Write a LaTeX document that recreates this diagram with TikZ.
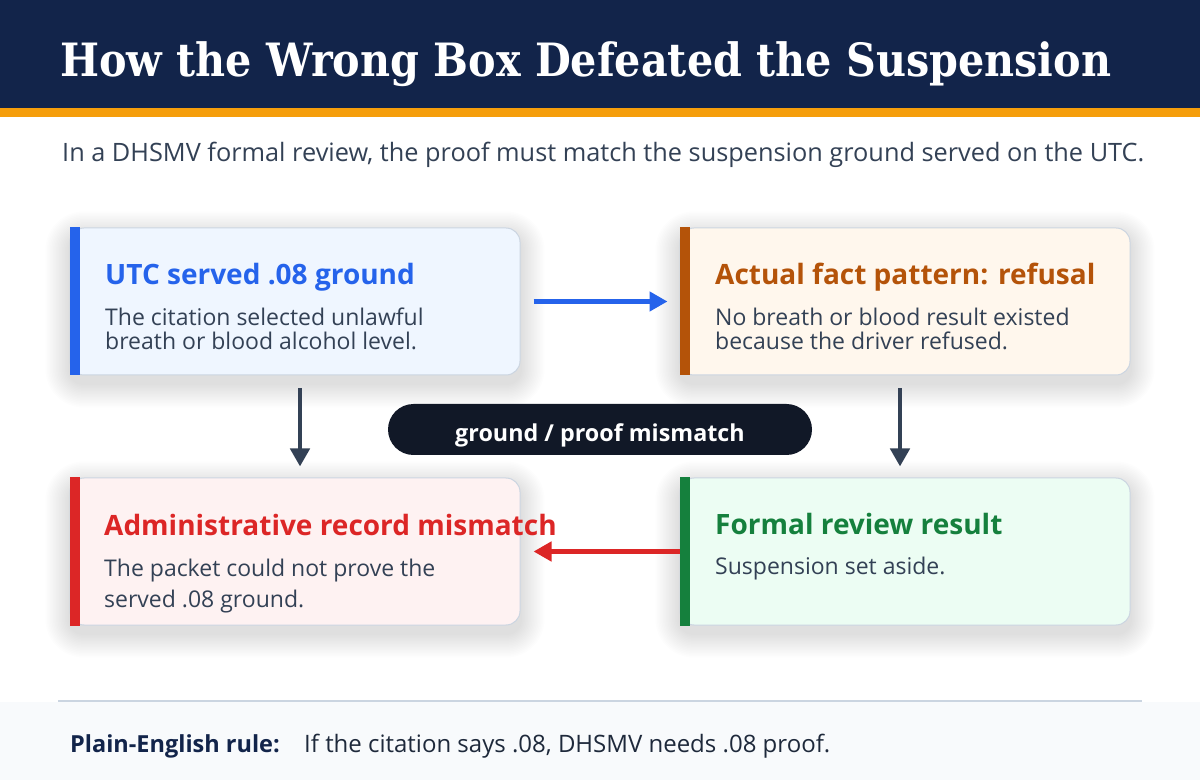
\documentclass[tikz,border=0pt]{standalone}
\usepackage{fontspec}
\setmainfont{Open Sans}
\newfontfamily\titlefont[FakeStretch=0.9]{DejaVu Serif}
\usetikzlibrary{arrows.meta}
\definecolor{navy}{HTML}{12244A}
\definecolor{amber}{HTML}{F59E0B}
\definecolor{slate}{HTML}{334155}
\definecolor{bordc}{HTML}{CBD5E1}
\definecolor{blueA}{HTML}{2563EB}
\definecolor{blueF}{HTML}{EFF6FF}
\definecolor{brownA}{HTML}{B45309}
\definecolor{brownF}{HTML}{FFF7ED}
\definecolor{redA}{HTML}{DC2626}
\definecolor{redF}{HTML}{FEF2F2}
\definecolor{greenA}{HTML}{15803D}
\definecolor{greenF}{HTML}{ECFDF3}
\definecolor{pillc}{HTML}{111827}
\definecolor{footbg}{HTML}{F8FAFC}
\definecolor{foottxt}{HTML}{1E293B}
\tikzset{
  cardbox/.style={rectangle, rounded corners=14pt, draw=bordc, line width=1pt,
    minimum width=450pt, minimum height=147pt, inner sep=0pt},
  cardtitle/.style={anchor=base west, inner sep=0pt, font=\fontsize{28}{33}\selectfont\bfseries},
  cardbody/.style={anchor=base west, inner sep=0pt, text=slate, font=\fontsize{23}{27}\selectfont},
  conn/.style={line width=4.5pt, -{Triangle[length=18pt,width=19pt]}},
}
\newcommand\accentbar[2]{\fill[#2] (#1.north west) rectangle ([xshift=10pt]#1.south west);}
\newcommand\softshadow[1]{%
  \foreach \i in {1,...,16}{%
    \fill[black, opacity=0.0065, rounded corners=14pt+\i*1.5pt]
      ([xshift=-\i*1.5pt, yshift=-8pt-\i*1.5pt]#1.south west) rectangle ([xshift=\i*1.5pt, yshift=-8pt+\i*1.5pt]#1.north east);
  }}
\begin{document}
\begin{tikzpicture}[x=1pt,y=1pt]
\useasboundingbox (0,0) rectangle (1200,780);
\fill[white] (0,0) rectangle (1200,780);
% header
\fill[navy] (0,672) rectangle (1200,780);
\fill[amber] (0,663) rectangle (1200,672);
\node[anchor=base west, inner sep=0pt, text=white, font=\titlefont\fontsize{45.9}{52}\selectfont\bfseries] (title) at (60,703) {How the Wrong Box Defeated the Suspension};
\node[anchor=base west, inner sep=0pt, text=slate, font=\fontsize{25.3}{30}\selectfont] (sub) at (62,618) {In a DHSMV formal review, the proof must match the suspension ground served on the UTC.};
% cards (invisible anchors first, for shadows)
\path (295,478.5) node[cardbox, draw=none] (b1) {};
\path (905,478.5) node[cardbox, draw=none] (b2) {};
\path (295,228.5) node[cardbox, draw=none] (b3) {};
\path (905,228.5) node[cardbox, draw=none] (b4) {};
\softshadow{b1}\softshadow{b2}\softshadow{b3}\softshadow{b4}
\node[cardbox, fill=blueF] (c1) at (b1) {};
\accentbar{c1}{blueA}
\node[cardbox, fill=brownF] (c2) at (b2) {};
\accentbar{c2}{brownA}
\node[cardbox, fill=redF] (c3) at (b3) {};
\accentbar{c3}{redA}
\node[cardbox, fill=greenF] (c4) at (b4) {};
\accentbar{c4}{greenA}
% card texts
\node[cardtitle, text=blueA] (t1) at (105,495) {UTC served .08 ground};
\node[cardbody] (t1a) at (105,454) {The citation selected unlawful};
\node[cardbody] (t1b) at (105,430) {breath or blood alcohol level.};
\node[cardtitle, text=brownA] (t2) at (715,495) {Actual fact pattern: refusal};
\node[cardbody] (t2a) at (715,454) {No breath or blood result existed};
\node[cardbody] (t2b) at (715,430) {because the driver refused.};
\node[cardtitle, text=redA] (t3) at (104,244) {Administrative record mismatch};
\node[cardbody] (t3a) at (104,204) {The packet could not prove the};
\node[cardbody] (t3b) at (104,173) {served .08 ground.};
\node[cardtitle, text=greenA] (t4) at (715,245) {Formal review result};
\node[cardbody] (t4a) at (715,205) {Suspension set aside.};
% pill
\node[fill=pillc, rounded corners=25.5pt, minimum width=424pt, minimum height=51pt, inner sep=0pt] (pill) at (600,350.5) {};
\node[anchor=base, inner sep=0pt, text=white, font=\fontsize{23.3}{28}\selectfont\bfseries] (pilltxt) at (600,338) {ground / proof mismatch};
% connectors
\coordinate (cl) at (300,0);
\coordinate (cr) at (900,0);
\draw[conn, blueA, shorten <=13pt, shorten >=12pt] (c1.east) -- (c2.west);
\draw[conn, redA, shorten >=13pt] (c4.west) -- (c3.east);
\draw[conn, slate, shorten <=13pt, shorten >=11pt] (c1.south -| cl) -- (c3.north -| cl);
\draw[conn, slate, shorten <=13pt, shorten >=11pt] (c2.south -| cr) -- (c4.north -| cr);
% footer
\fill[footbg] (0,0) rectangle (1200,78);
\draw[bordc, line width=2pt] (58,79) -- (1142,79);
\node[anchor=base west, inner sep=0pt, text=navy, font=\fontsize{23.5}{28}\selectfont\bfseries] (fl) at (70,28) {Plain-English rule:};
\node[anchor=base west, inner sep=0pt, text=foottxt, font=\fontsize{24}{28}\selectfont] (fr) at (304,28) {If the citation says .08, DHSMV needs .08 proof.};
\end{tikzpicture}
\end{document}
